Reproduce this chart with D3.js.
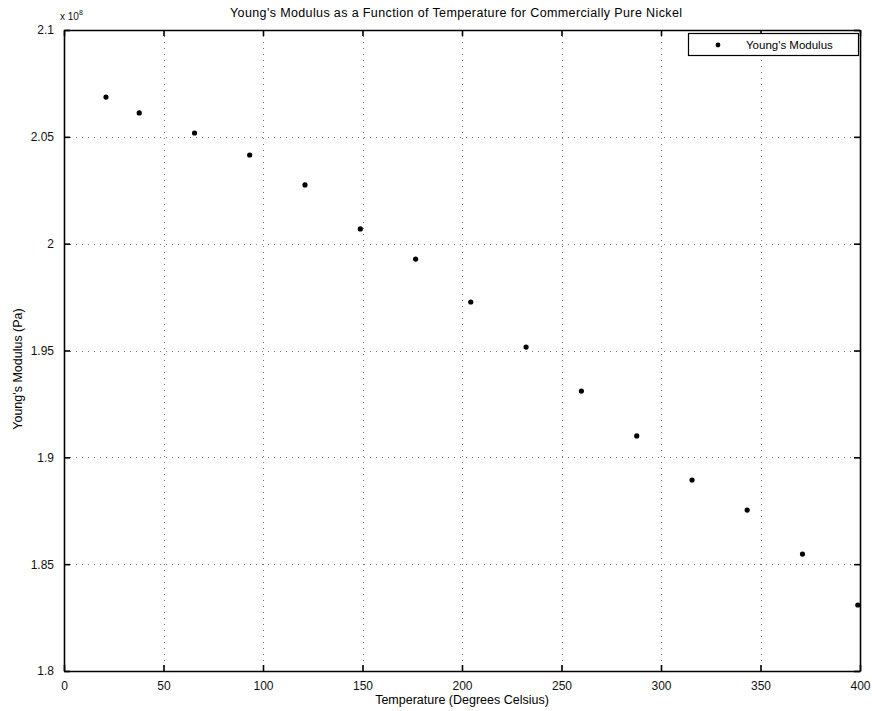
<!DOCTYPE html>
<html>
<head>
<meta charset="utf-8">
<script src="https://cdn.jsdelivr.net/npm/d3@7"></script>
<style>
  body { margin: 0; background: #fff; }
  svg { display: block; font-family: "Liberation Sans", Arial, sans-serif; }
  .tick-label { font-size: 12px; fill: #111; }
</style>
</head>
<body>
<div id="chart"></div>
<script>
// temperatures in degrees Celsius (70..750 F converted)
const temperature = [21.1, 37.8, 65.6, 93.3, 121.1, 148.9, 176.7, 204.4, 232.2, 260.0, 287.8, 315.6, 343.3, 371.1, 398.9];
// Young's modulus, x 10^8 Pa as shown on the axis
const modulus = [2.0686, 2.0612, 2.0518, 2.0415, 2.0275, 2.0069, 1.9928, 1.9727, 1.9516, 1.9310, 1.9100, 1.8894, 1.8753, 1.8547, 1.8309];
const xTicks = [0, 50, 100, 150, 200, 250, 300, 350, 400];
const yTicks = [1.8, 1.85, 1.9, 1.95, 2, 2.05, 2.1];
const yTickLabels = ['1.8', '1.85', '1.9', '1.95', '2', '2.05', '2.1'];

const width = 872, height = 711;
const margin = { left: 64, right: 12, top: 30, bottom: 40 };

const svg = d3.select('#chart').append('svg')
  .attr('width', width)
  .attr('height', height);

const x = d3.scaleLinear().domain([0, 400]).range([margin.left, width - margin.right]);
const y = d3.scaleLinear().domain([1.8, 2.1]).range([height - margin.bottom, margin.top]);

const x0 = x.range()[0], x1 = x.range()[1];
const y0 = y.range()[0], y1 = y.range()[1];

// dotted grid
const grid = svg.append('g')
  .attr('stroke', '#777')
  .attr('stroke-width', 1)
  .attr('stroke-dasharray', '1,5');

grid.selectAll('.gx').data(xTicks.slice(1, -1)).join('line')
  .attr('x1', d => Math.round(x(d)) + 0.5).attr('x2', d => Math.round(x(d)) + 0.5)
  .attr('y1', y1).attr('y2', y0);

grid.selectAll('.gy').data(yTicks.slice(1, -1)).join('line')
  .attr('y1', d => Math.round(y(d)) + 0.5).attr('y2', d => Math.round(y(d)) + 0.5)
  .attr('x1', x0).attr('x2', x1);

// axes with inward ticks, MATLAB style
const tickLen = 6;
const xAxisBottom = d3.axisBottom(x).tickValues(xTicks).tickSizeInner(-tickLen).tickSizeOuter(0).tickPadding(10);
const xAxisTop = d3.axisTop(x).tickValues(xTicks).tickSizeInner(-tickLen).tickSizeOuter(0).tickFormat('');
const yAxisLeft = d3.axisLeft(y).tickValues(yTicks).tickSizeInner(-tickLen).tickSizeOuter(0).tickPadding(10)
  .tickFormat((d, i) => yTickLabels[i]);
const yAxisRight = d3.axisRight(y).tickValues(yTicks).tickSizeInner(-tickLen).tickSizeOuter(0).tickFormat('');

function styleAxis(g) {
  g.select('.domain').attr('stroke', '#000').attr('stroke-width', 1.6);
  g.selectAll('.tick line').attr('stroke', '#000').attr('stroke-width', 1.6);
  g.selectAll('.tick text').attr('class', 'tick-label').attr('font-size', null).attr('font-family', null);
}

svg.append('g').attr('transform', `translate(0,${y0})`).call(xAxisBottom).call(styleAxis);
svg.append('g').attr('transform', `translate(0,${y1})`).call(xAxisTop).call(styleAxis);
svg.append('g').attr('transform', `translate(${x0},0)`).call(yAxisLeft).call(styleAxis);
svg.append('g').attr('transform', `translate(${x1},0)`).call(yAxisRight).call(styleAxis);

// exponent label
const expo = svg.append('text')
  .attr('x', x0 - 4).attr('y', y1 - 10)
  .attr('font-size', 10).attr('fill', '#111');
expo.append('tspan').text('x 10');
expo.append('tspan').attr('font-size', 7).attr('dy', -5).text('8');

// data points
svg.append('g').selectAll('circle')
  .data(temperature)
  .join('circle')
  .attr('cx', d => x(d))
  .attr('cy', (d, i) => y(modulus[i]))
  .attr('r', 2.6)
  .attr('fill', '#000');

// title and axis labels
svg.append('text')
  .attr('x', 456).attr('y', 17)
  .attr('text-anchor', 'middle')
  .attr('font-size', 12.5)
  .attr('textLength', 452)
  .attr('fill', '#000')
  .text('Young\u2019s Modulus as a Function of Temperature for Commercially Pure Nickel'.replace('\u2019', "'"));

svg.append('text')
  .attr('x', 462).attr('y', 704)
  .attr('text-anchor', 'middle')
  .attr('font-size', 12.5)
  .attr('fill', '#000')
  .text('Temperature (Degrees Celsius)');

svg.append('text')
  .attr('transform', 'translate(22,369) rotate(-90)')
  .attr('text-anchor', 'middle')
  .attr('font-size', 12.5)
  .attr('fill', '#000')
  .text("Young's Modulus (Pa)");

// legend
const legend = svg.append('g').attr('transform', `translate(${x1 - 172},${y1 + 3})`);
legend.append('rect')
  .attr('x', 0.5).attr('y', 0.5)
  .attr('width', 170).attr('height', 22)
  .attr('fill', '#fff')
  .attr('stroke', '#000').attr('stroke-width', 1.2);
legend.append('circle').attr('cx', 30).attr('cy', 12).attr('r', 2.4).attr('fill', '#000');
legend.append('text')
  .attr('x', 58).attr('y', 16)
  .attr('font-size', 11.5)
  .attr('fill', '#000')
  .text("Young's Modulus");
</script>
</body>
</html>
